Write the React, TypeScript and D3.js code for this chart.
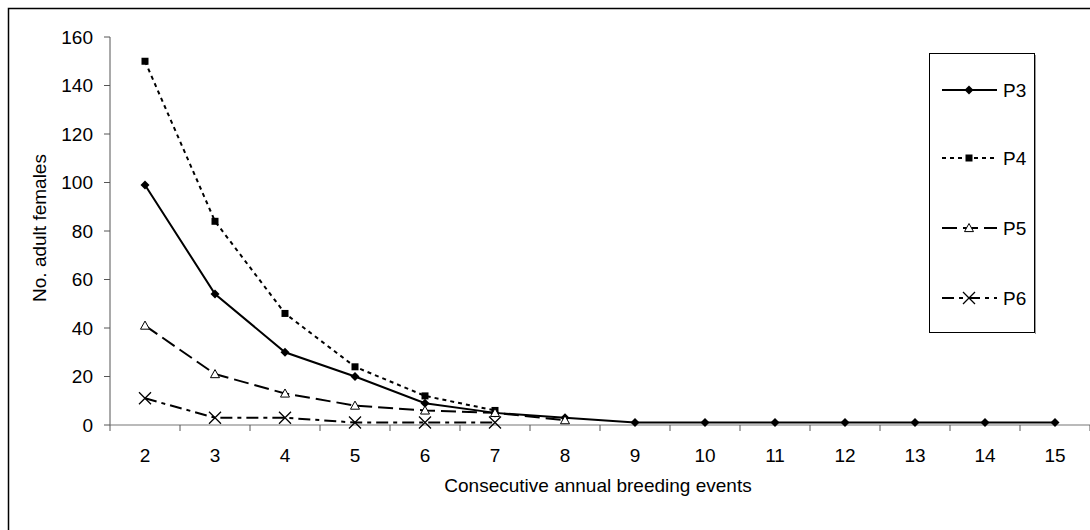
import React from "react";
import * as d3 from "d3";

const categories = ["2", "3", "4", "5", "6", "7", "8", "9", "10", "11", "12", "13", "14", "15"];
const p3 = [99, 54, 30, 20, 9, 5, 3, 1, 1, 1, 1, 1, 1, 1];
const p4 = [150, 84, 46, 24, 12, 6];
const p5 = [41, 21, 13, 8, 6, 5, 2];
const p6 = [11, 3, 3, 1, 1, 1];
const yTicks = [0, 20, 40, 60, 80, 100, 120, 140, 160];
const seriesNames = ["P3", "P4", "P5", "P6"];

const FONT = "Liberation Sans, Arial, sans-serif";

type Kind = "diamond" | "square" | "triangle" | "x";

function Marker({ kind, cx, cy }: { kind: Kind; cx: number; cy: number }) {
  if (kind === "diamond") {
    const r = 4.5;
    return <path d={`M${cx},${cy - r}L${cx + r},${cy}L${cx},${cy + r}L${cx - r},${cy}Z`} fill="#000" />;
  }
  if (kind === "square") {
    const r = 3.5;
    return <rect x={cx - r} y={cy - r} width={2 * r} height={2 * r} fill="#000" />;
  }
  if (kind === "triangle") {
    const r = 4.5;
    return (
      <path
        d={`M${cx},${cy - r}L${cx + r},${cy + r * 0.8}L${cx - r},${cy + r * 0.8}Z`}
        fill="#fff"
        stroke="#000"
        strokeWidth={1}
      />
    );
  }
  const r = 6;
  return (
    <path
      d={`M${cx - r},${cy - r}L${cx + r},${cy + r}M${cx + r},${cy - r}L${cx - r},${cy + r}`}
      stroke="#000"
      strokeWidth={1.3}
      fill="none"
    />
  );
}

export default function App() {
  const x = d3.scaleBand<string>().domain(categories).range([110, 1090]).padding(0);
  const y = d3.scaleLinear().domain([0, 160]).range([425, 37]);
  const cx = (i: number) => (x(categories[i]) as number) + x.bandwidth() / 2;

  const series: { name: string; values: number[]; dash: string; kind: Kind }[] = [
    { name: seriesNames[0], values: p3, dash: "none", kind: "diamond" },
    { name: seriesNames[1], values: p4, dash: "4,4", kind: "square" },
    { name: seriesNames[2], values: p5, dash: "15,6", kind: "triangle" },
    { name: seriesNames[3], values: p6, dash: "12,5,4,5", kind: "x" },
  ];

  const line = d3
    .line<number>()
    .x((_, i) => cx(i))
    .y((d) => y(d));

  const bounds = [...categories.map((c) => x(c) as number), 1090];
  const legendY = [90, 158, 228, 298];

  return (
    <svg
      width={1090}
      height={530}
      style={{ position: "absolute", left: 0, top: 0, background: "#fff" }}
      fontFamily={FONT}
    >
      <rect x={0} y={0} width={1090} height={530} fill="#fff" />
      <rect x={8.5} y={8.5} width={1200} height={700} fill="none" stroke="#000" strokeWidth={1.5} />

      {/* y axis */}
      <line x1={110} x2={110} y1={y(160)} y2={425} stroke="#555" strokeWidth={1} />
      {yTicks.map((t) => (
        <g key={t}>
          <line x1={104} x2={110} y1={y(t)} y2={y(t)} stroke="#555" />
          <text x={93} y={y(t)} dy="0.35em" textAnchor="end" fontSize={19} fill="#000">
            {t}
          </text>
        </g>
      ))}

      {/* x axis */}
      <line x1={110} x2={1090} y1={425} y2={425} stroke="#777" strokeWidth={1.2} />
      {bounds.map((b, i) => (
        <line key={i} x1={b} x2={b} y1={425} y2={431} stroke="#555" />
      ))}
      {categories.map((c, i) => (
        <text key={c} x={cx(i)} y={462} textAnchor="middle" fontSize={19} fill="#000">
          {c}
        </text>
      ))}

      <text x={598} y={492} textAnchor="middle" fontSize={19} fill="#000">
        Consecutive annual breeding events
      </text>
      <text
        transform="translate(46,228) rotate(-90)"
        textAnchor="middle"
        fontSize={19}
        fill="#000"
      >
        No. adult females
      </text>

      {/* series */}
      {series.map((s) => (
        <g key={s.name}>
          <path
            d={line(s.values) || ""}
            fill="none"
            stroke="#000"
            strokeWidth={2}
            strokeDasharray={s.dash}
          />
          {s.values.map((v, i) => (
            <Marker key={i} kind={s.kind} cx={cx(i)} cy={y(v)} />
          ))}
        </g>
      ))}

      {/* legend */}
      <rect x={929.5} y={53.5} width={105} height={279} fill="#fff" stroke="#000" strokeWidth={1} />
      <line x1={1035.5} x2={1035.5} y1={55} y2={334} stroke="#999" strokeWidth={1} />
      {series.map((s, i) => (
        <g key={s.name}>
          <line
            x1={942}
            x2={997}
            y1={legendY[i]}
            y2={legendY[i]}
            stroke="#000"
            strokeWidth={2}
            strokeDasharray={s.dash}
          />
          <Marker kind={s.kind} cx={969} cy={legendY[i]} />
          <text x={1003} y={legendY[i]} dy="0.35em" fontSize={19} fill="#000">
            {s.name}
          </text>
        </g>
      ))}
    </svg>
  );
}
